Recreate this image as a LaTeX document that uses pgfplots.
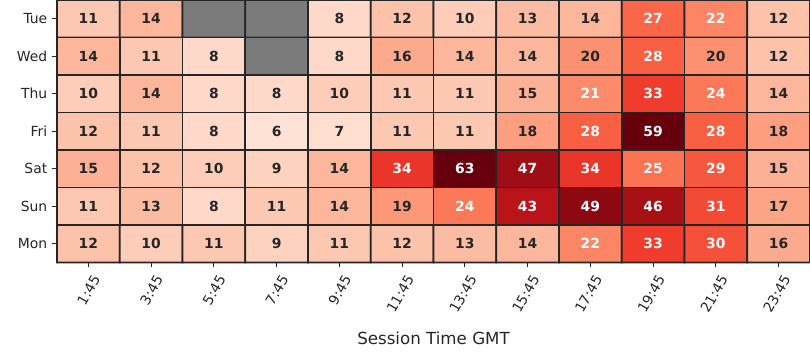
\documentclass[border=0pt]{standalone}
\usepackage{pgfplots}
\usepackage{pgfplotstable}
\pgfplotsset{compat=1.18}
\usepackage{fontspec}
\setmainfont{DejaVu Sans}
\definecolor{darktext}{HTML}{262626}

% columns: x = session slot (0 = 1:45 ... 11 = 23:45), y = day (0 = Tue ... 6 = Mon), v = value (-5 = no data)
\pgfplotstableread{
x y v
0 0 11
1 0 14
2 0 -5
3 0 -5
4 0 8
5 0 12
6 0 10
7 0 13
8 0 14
9 0 27
10 0 22
11 0 12
0 1 14
1 1 11
2 1 8
3 1 -5
4 1 8
5 1 16
6 1 14
7 1 14
8 1 20
9 1 28
10 1 20
11 1 12
0 2 10
1 2 14
2 2 8
3 2 8
4 2 10
5 2 11
6 2 11
7 2 15
8 2 21
9 2 33
10 2 24
11 2 14
0 3 12
1 3 11
2 3 8
3 3 6
4 3 7
5 3 11
6 3 11
7 3 18
8 3 28
9 3 59
10 3 28
11 3 18
0 4 15
1 4 12
2 4 10
3 4 9
4 4 14
5 4 34
6 4 63
7 4 47
8 4 34
9 4 25
10 4 29
11 4 15
0 5 11
1 5 13
2 5 8
3 5 11
4 5 14
5 5 19
6 5 24
7 5 43
8 5 49
9 5 46
10 5 31
11 5 17
0 6 12
1 6 10
2 6 11
3 6 9
4 6 11
5 6 12
6 6 13
7 6 14
8 6 22
9 6 33
10 6 30
11 6 16
}\heat

\begin{document}
\begin{tikzpicture}
\begin{axis}[
  name=ax,
  scale only axis,
  width=542.16pt, height=189pt,
  xmin=-0.5, xmax=11.5, ymin=-0.5, ymax=6.5,
  enlargelimits=false,
  y dir=reverse,
  clip=false,
  axis line style={draw=none},
  tick pos=left,
  tick align=outside,
  major tick length=3.5pt,
  tick style={line width=0.8pt, color=darktext},
  xtick={0,...,11},
  ytick={0,...,6},
  xticklabels={1:45,3:45,5:45,7:45,9:45,11:45,13:45,15:45,17:45,19:45,21:45,23:45},
  yticklabels={Tue,Wed,Thu,Fri,Sat,Sun,Mon},
  ticklabel style={font=\fontsize{10}{12}\selectfont, text=darktext},
  xticklabel style={xshift=7.6pt, yshift=-3.7pt, rotate=60, anchor=east},
  xlabel={Session Time GMT},
  xlabel style={font=\fontsize{12}{14}\selectfont, text=darktext,
    at={(axis description cs:0.5,0)}, anchor=center, yshift=-54.4pt},
  colormap={redsgray}{
    rgb255(0cm)=(123,123,123) rgb255(7cm)=(123,123,123)
    rgb255(8cm)=(255,245,240) rgb255(16cm)=(254,224,210)
    rgb255(24cm)=(252,187,161) rgb255(32cm)=(252,146,114)
    rgb255(40cm)=(251,106,74) rgb255(48cm)=(239,59,44)
    rgb255(56cm)=(203,24,29) rgb255(64cm)=(165,15,21)
    rgb255(72cm)=(103,0,13)},
  point meta min=-6.625, point meta max=53,
]
\addplot[matrix plot*, mesh/cols=12, mesh/rows=7, point meta=explicit,
  shader=faceted, faceted color=darktext, line width=1.4pt]
  table[x=x, y=y, meta=v] {\heat};
\addplot[draw=none, mark=none, point meta=explicit,
  visualization depends on={\thisrow{v}\as\val},
  nodes near coords={\ifdim\val pt<0pt\else\ifdim\val pt>20.5pt\color{white}\else\color{darktext}\fi\pgfmathprintnumber[fixed,precision=0,assume math mode=true]{\val}\fi},
  every node near coord/.append style={anchor=center, font=\bfseries\fontsize{10}{12}\selectfont}]
  table[x=x, y=y, meta=v] {\heat};
\end{axis}
\pgfresetboundingbox
\path[use as bounding box] ([xshift=-41.04pt, yshift=-70.2pt]ax.south west) rectangle (ax.north east);
\end{tikzpicture}
\end{document}
